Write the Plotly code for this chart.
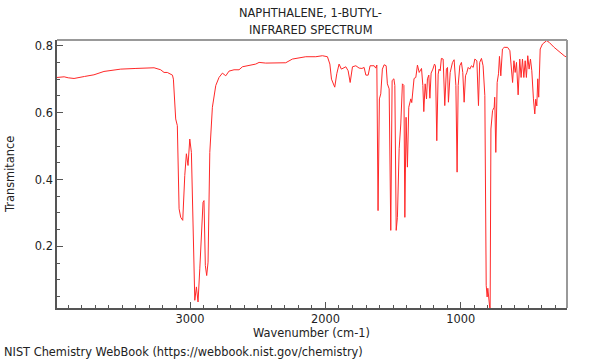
import plotly.graph_objects as go

wavenumber = [3983, 3930, 3900, 3857, 3780, 3710, 3636, 3512, 3400, 3266, 3217, 3192, 3168, 3143, 3130, 3123,
              3106, 3094, 3081, 3069, 3054, 3039, 3027, 3015, 3002, 2990, 2978, 2965, 2953, 2941, 2928,
              2916, 2904, 2897, 2887, 2877, 2867, 2854, 2835, 2810, 2786, 2761, 2736, 2712, 2675, 2638,
              2613, 2515, 2490, 2441, 2350, 2293, 2244, 2194, 2145, 2071, 2022, 1985, 1967, 1955, 1931,
              1916, 1899, 1882, 1865, 1849, 1832, 1817, 1800, 1775, 1751, 1730, 1714, 1701, 1684, 1670,
              1640, 1628, 1620, 1611, 1601, 1591, 1579, 1566, 1551, 1542, 1529, 1517, 1507, 1494, 1487,
              1477, 1468, 1455, 1443, 1431, 1420, 1413, 1404, 1394, 1384, 1369, 1362, 1352, 1345, 1332,
              1320, 1307, 1290, 1280, 1273, 1263, 1253, 1246, 1236, 1228, 1219, 1206, 1194, 1187, 1177,
              1167, 1160, 1152, 1143, 1130, 1118, 1106, 1098, 1091, 1078, 1061, 1049, 1036, 1027, 1019,
              1007, 995, 985, 975, 965, 955, 945, 933, 921, 908, 896, 881, 869, 860, 847, 835, 822, 812,
              805, 800, 790, 783, 777, 765, 753, 749, 741, 731, 721, 714, 704, 697, 692, 679, 654, 637,
              625, 617, 607, 598, 588, 576, 564, 554, 544, 534, 524, 515, 505, 495, 485, 475, 463, 453,
              446, 438, 431, 424, 413, 396, 365, 347, 310, 273, 236, 215]
transmittance = [0.705, 0.707, 0.704, 0.702, 0.708, 0.713, 0.723, 0.730, 0.732, 0.734, 0.728, 0.720, 0.720,
                 0.716, 0.712, 0.700, 0.581, 0.561, 0.3125, 0.287, 0.278, 0.412, 0.477, 0.442, 0.521, 0.481,
                 0.233, 0.039, 0.079, 0.034, 0.133, 0.243, 0.332, 0.337, 0.143, 0.113, 0.153, 0.481, 0.616,
                 0.681, 0.705, 0.718, 0.710, 0.724, 0.728, 0.728, 0.737, 0.745, 0.750, 0.748, 0.748, 0.749,
                 0.760, 0.763, 0.767, 0.767, 0.770, 0.767, 0.745, 0.700, 0.676, 0.716, 0.745, 0.730, 0.735,
                 0.737, 0.725, 0.690, 0.737, 0.740, 0.733, 0.732, 0.735, 0.712, 0.712, 0.740, 0.740, 0.733,
                 0.742, 0.307, 0.641, 0.656, 0.730, 0.743, 0.740, 0.686, 0.671, 0.248, 0.696, 0.701, 0.681,
                 0.248, 0.287, 0.492, 0.566, 0.686, 0.681, 0.287, 0.586, 0.437, 0.616, 0.641, 0.630, 0.671,
                 0.702, 0.705, 0.742, 0.720, 0.732, 0.681, 0.603, 0.686, 0.641, 0.701, 0.712, 0.643, 0.718,
                 0.730, 0.745, 0.740, 0.516, 0.715, 0.730, 0.725, 0.762, 0.760, 0.621, 0.730, 0.735, 0.631,
                 0.720, 0.750, 0.758, 0.681, 0.422, 0.681, 0.740, 0.750, 0.720, 0.631, 0.710, 0.720, 0.735,
                 0.730, 0.740, 0.735, 0.760, 0.755, 0.621, 0.750, 0.762, 0.740, 0.651, 0.084, 0.049, 0.075,
                 0.034, 0.005, 0.551, 0.606, 0.616, 0.646, 0.481, 0.690, 0.716, 0.768, 0.710, 0.775, 0.790,
                 0.795, 0.795, 0.785, 0.730, 0.690, 0.755, 0.720, 0.750, 0.653, 0.760, 0.705, 0.760, 0.705,
                 0.755, 0.705, 0.770, 0.730, 0.760, 0.725, 0.641, 0.596, 0.640, 0.620, 0.701, 0.646, 0.790,
                 0.805, 0.815, 0.810, 0.795, 0.782, 0.770, 0.765]

x_ticks = [3000, 2000, 1000]
y_ticks = [0.2, 0.4, 0.6, 0.8]
title_lines = ["NAPHTHALENE, 1-BUTYL-", "INFRARED SPECTRUM"]

FONT = "DejaVu Sans"
FS = 11.4
fig = go.Figure()
fig.add_trace(go.Scatter(x=wavenumber, y=transmittance, mode="lines",
                         line=dict(color="rgb(255,40,40)", width=1), hoverinfo="skip"))

L, R, T, B = 57, 33, 40, 52
W, H = 600, 360
pw, ph = W - L - R, H - T - B

def px(x):
    return (x - L) / pw

def py(y):
    return (H - B - y) / ph

fig.update_layout(
    width=W, height=H, margin=dict(l=L, r=R, t=T, b=B),
    paper_bgcolor="white", plot_bgcolor="white", showlegend=False,
    font=dict(family=FONT, size=FS, color="#222"),
    xaxis=dict(range=[3983, 215], tickvals=x_ticks, ticktext=[str(v) for v in x_ticks],
               ticks="inside", ticklen=6, tickcolor="#555", showgrid=False, zeroline=False,
               showline=True, linecolor="#555", linewidth=1.5,
               minor=dict(tick0=0, dtick=100, ticks="inside", ticklen=3, tickcolor="#555", showgrid=False),
               tickfont=dict(size=FS, color="#222")),
    yaxis=dict(range=[0.016, 0.817], tickvals=y_ticks, ticktext=[f"{v:.1f}" for v in y_ticks],
               ticks="inside", ticklen=6, tickcolor="#555", showgrid=False, zeroline=False,
               showline=True, linecolor="#555", linewidth=1.5,
               minor=dict(tick0=0, dtick=0.05, ticks="inside", ticklen=3, tickcolor="#555", showgrid=False),
               tickfont=dict(size=FS, color="#222")),
)

# top and right frame
fig.add_shape(type="line", xref="paper", yref="paper", x0=0, x1=1, y0=1, y1=1,
              line=dict(color="#999", width=2))
fig.add_shape(type="line", xref="paper", yref="paper", x0=1, x1=1, y0=0, y1=1,
              line=dict(color="#999", width=2))

ann = []
ann.append(dict(text=title_lines[0], x=px(310), y=py(13)))
ann.append(dict(text=title_lines[1], x=px(310), y=py(30)))
ann.append(dict(text="Wavenumber (cm-1)", x=px(311), y=py(333)))
for a in ann:
    a.update(xref="paper", yref="paper", showarrow=False, xanchor="center", yanchor="middle",
             font=dict(family=FONT, size=FS, color="#222"))
    fig.add_annotation(**a)
fig.add_annotation(text="Transmitance", x=px(10), y=py(175), xref="paper", yref="paper",
                   showarrow=False, textangle=-90, xanchor="center", yanchor="middle",
                   font=dict(family=FONT, size=FS, color="#222"))
fig.add_annotation(text="NIST Chemistry WebBook (https://webbook.nist.gov/chemistry)",
                   x=px(2), y=py(352), xref="paper", yref="paper", showarrow=False,
                   xanchor="left", yanchor="middle",
                   font=dict(family=FONT, size=FS, color="#222"))

fig.write_html("out.html", config={"displayModeBar": False},
               post_script="document.body.style.margin='0';document.body.style.overflow='hidden';")
